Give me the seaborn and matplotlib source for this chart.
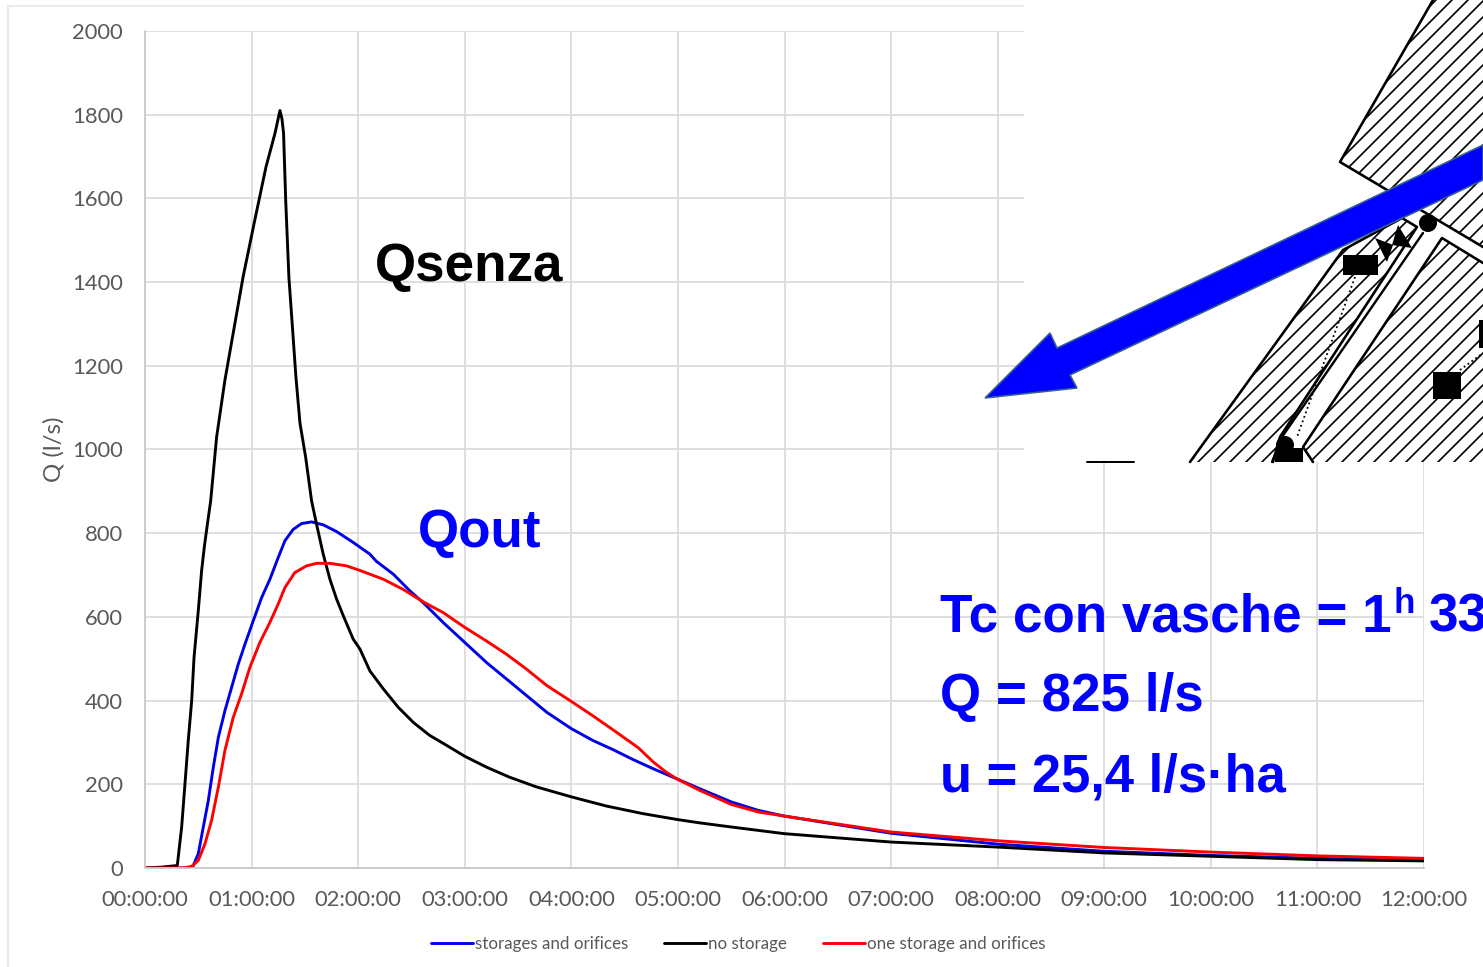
import matplotlib.pyplot as plt
from matplotlib.patches import Circle, Polygon, Rectangle
import pandas as pd
import seaborn as sns

# hours after start, Q in l/s
no_storage_h = [0, 0.15, 0.27, 0.303, 0.344, 0.375, 0.406, 0.438, 0.46, 0.50, 0.531, 0.556, 0.585, 0.616, 0.672,
                0.75, 0.844, 0.92, 1.03, 1.135, 1.22, 1.266, 1.285, 1.30, 1.32, 1.35, 1.385, 1.416, 1.454, 1.507,
                1.563, 1.61, 1.672, 1.735, 1.797, 1.86, 1.953, 2.017, 2.11, 2.236, 2.376, 2.517, 2.67, 2.83,
                3.0, 3.204, 3.42, 3.67, 4.0, 4.33, 4.67, 4.99, 5.2, 5.5, 5.75, 6, 7, 8, 9, 10, 11, 12]
no_storage_q = [0, 2, 5, 6, 98, 201, 305, 400, 503, 615, 710, 766, 821, 877, 1030,
                1166, 1302, 1412, 1548, 1675, 1756, 1810, 1790, 1756, 1596, 1412, 1286, 1173, 1063, 982,
                877, 821, 750, 690, 643, 603, 547, 523, 471, 428, 384, 348, 317, 293,
                267, 241, 217, 194, 170, 148, 130, 116, 108, 98, 90, 82, 62, 50, 36, 28, 20, 17]

storages_h = [0, 0.43, 0.447, 0.50, 0.547, 0.594, 0.641, 0.688, 0.75, 0.813, 0.875, 0.938, 1.016, 1.094, 1.172,
              1.25, 1.313, 1.39, 1.469, 1.563, 1.672, 1.797, 1.953, 2.11, 2.17, 2.33, 2.486, 2.61, 2.80,
              3.0, 3.204, 3.39, 3.58, 3.77, 4.0, 4.2, 4.39, 4.58, 4.77, 4.99, 5.2, 5.5, 5.75, 6, 7, 8, 9, 10, 11, 12]
storages_q = [0, 0, 2, 34, 98, 161, 241, 312, 376, 432, 487, 535, 591, 646, 690,
              742, 782, 809, 823, 827, 820, 804, 778, 750, 733, 702, 662, 634, 586,
              539, 491, 452, 412, 372, 333, 305, 283, 259, 237, 213, 190, 158, 138, 124, 83, 57, 40, 30, 23, 18]

one_storage_h = [0, 0.36, 0.438, 0.50, 0.563, 0.625, 0.688, 0.75, 0.828, 0.906, 0.985, 1.078, 1.172, 1.25, 1.313,
                 1.406, 1.516, 1.61, 1.735, 1.89, 2.017, 2.236, 2.42, 2.61, 2.80, 3.0, 3.2, 3.39, 3.58, 3.77,
                 4.0, 4.2, 4.42, 4.63, 4.77, 4.89, 4.99, 5.2, 5.5, 5.75, 6, 7, 8, 9, 10, 11, 12]
one_storage_q = [0, 0, 4, 18, 58, 114, 193, 281, 360, 416, 480, 539, 587, 631, 670,
                 706, 722, 728, 728, 722, 711, 690, 666, 636, 610, 575, 543, 511, 475, 436,
                 398, 364, 325, 287, 253, 229, 213, 186, 152, 134, 124, 86, 65, 49, 38, 29, 23]

series_names = ["storages and orifices", "no storage", "one storage and orifices"]
series_colors = ["#0000e6", "#000000", "#ff0000"]
hour_ticks = list(range(13))
hour_labels = [f"{h:02d}:00:00" for h in hour_ticks]
q_ticks = [0, 200, 400, 600, 800, 1000, 1200, 1400, 1600, 1800, 2000]

W, H = 1483, 967
GRAY = "#595959"
GRID = "#dcdcdc"

sns.set_theme(style="white")
plt.rcParams["font.family"] = ["Lato", "DejaVu Sans"]

df = pd.concat([
    pd.DataFrame({"h": storages_h, "q": storages_q, "serie": series_names[0]}),
    pd.DataFrame({"h": no_storage_h, "q": no_storage_q, "serie": series_names[1]}),
    pd.DataFrame({"h": one_storage_h, "q": one_storage_q, "serie": series_names[2]}),
])

fig = plt.figure(figsize=(W / 72, H / 72), dpi=72, facecolor="white")
ax = fig.add_axes([145 / W, 1 - 868 / H, (1424 - 145) / W, (868 - 31) / H])

sns.lineplot(
    data=df, x="h", y="q", hue="serie", hue_order=series_names,
    palette=series_colors, estimator=None, errorbar=None, linewidth=2.9, ax=ax
)

ax.set_xlim(0, 12)
ax.set_ylim(0, 2000)
ax.set_xticks(hour_ticks, hour_labels)
ax.set_yticks(q_ticks)
ax.grid(True, color=GRID, linewidth=1.8)
ax.set_axisbelow(True)
ax.tick_params(axis="x", length=0, labelsize=22, labelcolor=GRAY, pad=22)
ax.tick_params(axis="y", length=0, labelsize=22, labelcolor=GRAY, pad=22)
ax.set_xlabel("")
ax.set_ylabel("Q (l/s)", fontsize=24, color=GRAY, labelpad=8)
for side in ["top", "right"]:
    ax.spines[side].set_visible(False)
for side in ["left", "bottom"]:
    ax.spines[side].set_color("#c8c8c8")
    ax.spines[side].set_linewidth(1.8)

ax.legend(
    loc="center", bbox_to_anchor=(738 / W, 1 - 944 / H), bbox_transform=fig.transFigure,
    ncol=3, frameon=False, fontsize=17, labelcolor=GRAY, handlelength=2.5,
    handletextpad=0.1, columnspacing=2.1
)

# overlay in picture pixels: pasted drawing, arrow and the big labels
over = fig.add_axes([0, 0, 1, 1], facecolor="none")
over.set_xlim(0, W)
over.set_ylim(H, 0)
over.axis("off")

over.plot([8, 8, 1024], [967, 6, 6], color="#e4e4e4", linewidth=1.5)
over.add_patch(Rectangle((1024, 0), W - 1024, 462, facecolor="white", edgecolor="none"))
over.plot([1087, 1134], [462, 462], color="black", linewidth=2)

# (corner points, how many of them carry a drawn edge)
blocks = [
    ([(1483, 247), (1340, 162), (1433, 0), (1483, 0)], 3),
    ([(1273, 462), (1280, 437), (1417, 227), (1402, 218), (1343, 250), (1190, 462)], 6),
    ([(1313, 462), (1303, 447), (1442, 238), (1483, 263), (1483, 462)], 4),
]
for pts, n_edge in blocks:
    block = Polygon(pts, closed=True, facecolor="white", edgecolor="none")
    over.add_patch(block)
    for c in range(1180, 2000, 16):
        hatch_line, = over.plot([c - 500, c], [500, 0], color="black", linewidth=1.7)
        hatch_line.set_clip_path(block)
    xs, ys = zip(*pts[:n_edge])
    over.plot(xs, ys, color="black", linewidth=2.6)

over.plot([1423, 1282, 1272], [233, 437, 462], color="black", linewidth=2.4)
over.plot([1355, 1297], [277, 437], color="black", linewidth=1.8, linestyle=":")
over.plot([1460, 1483], [370, 353], color="black", linewidth=1.8, linestyle=":")

for x0, y0, w, h in [(1343, 255, 35, 20), (1433, 372, 28, 27), (1275, 448, 28, 14), (1479, 320, 4, 28)]:
    over.add_patch(Rectangle((x0, y0), w, h, facecolor="black", edgecolor="none", zorder=4))
over.add_patch(Circle((1285, 445), 9, facecolor="black", edgecolor="none", zorder=4))
over.add_patch(Circle((1428, 223), 9, facecolor="black", edgecolor="none", zorder=4))
over.add_patch(Polygon([(1375, 238), (1393, 245), (1387, 262)], facecolor="black", edgecolor="none", zorder=4))
over.add_patch(Polygon([(1398, 225), (1412, 248), (1392, 245)], facecolor="black", edgecolor="none", zorder=4))

arrow = [(985, 398), (1050, 333), (1057, 348), (1483, 145), (1483, 180), (1070, 375), (1077, 388)]
over.add_patch(Polygon(arrow, closed=True, facecolor="#0000ff", edgecolor="#35608f", linewidth=1.6, zorder=5))

bold = {"family": ["Liberation Sans"], "fontweight": "bold", "va": "baseline", "ha": "left"}
over.text(375, 281, "Qsenza", color="black", fontsize=53, **bold)
over.text(418, 547, "Qout", color="#0000ff", fontsize=53, **bold)
over.text(940, 631, "Tc con vasche = 1", color="#0000ff", fontsize=53, **bold)
over.text(1393, 613, "h", color="#0000ff", fontsize=35, **bold)
over.text(1429, 631, "33", color="#0000ff", fontsize=53, **bold)
over.text(940, 711, "Q = 825 l/s", color="#0000ff", fontsize=53, **bold)
over.text(940, 791, "u = 25,4 l/s·ha", color="#0000ff", fontsize=52.5, **bold)

fig.savefig("out.png", dpi=72, facecolor="white")
